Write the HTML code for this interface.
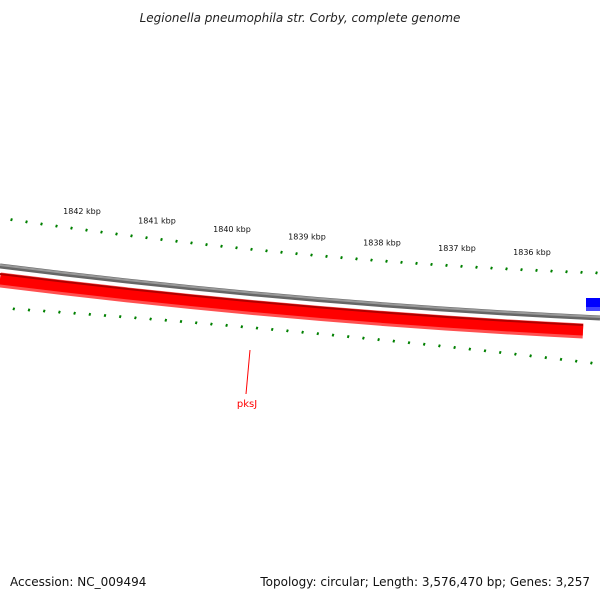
<!DOCTYPE html>
<html><head><meta charset="utf-8"><style>
html,body{margin:0;padding:0;background:#fff;}
svg{display:block;font-family:"DejaVu Sans","Liberation Sans",sans-serif;}
</style></head><body>
<svg id="map" width="600" height="600" viewBox="0 0 600 600">
<rect width="600" height="600" fill="#fff"/>
<text x="300" y="22" text-anchor="middle" font-size="12" font-style="italic" fill="#222">Legionella pneumophila str. Corby, complete genome</text>
<path d="M0,266 Q300,304 600,318" fill="none" stroke="#666" stroke-width="5"/>
<path d="M0,265 Q300,303 600,317" fill="none" stroke="#999" stroke-width="2"/>
<path d="M0,280 Q291.5,316.5 583,331" fill="none" stroke="#ff5050" stroke-width="15"/>
<path d="M0,279 Q291.5,315.5 583,330" fill="none" stroke="#ff0000" stroke-width="11"/>
<path d="M0,274 Q291.5,310.5 583,325" fill="none" stroke="#b00000" stroke-width="2"/>
<rect x="586" y="298" width="14" height="13" fill="#0000ff"/>
<rect x="586" y="307" width="14" height="4" fill="#4444ff"/>
<line x1="250" y1="350" x2="246" y2="394" stroke="#ff0000" stroke-width="1"/>
<text x="247" y="407" text-anchor="middle" font-size="10" fill="#ff0000">pksJ</text>
<g id="ticks"></g>
<text x="10" y="586" font-size="12" fill="#111">Accession: NC_009494</text>
<text x="590" y="586" text-anchor="end" font-size="12" fill="#111">Topology: circular; Length: 3,576,470 bp; Genes: 3,257</text>
</svg>
<script>
const majorKbp = [1843, 1842, 1841, 1840, 1839, 1838, 1837, 1836];
const labelKbp = [1842, 1841, 1840, 1839, 1838, 1837, 1836];
const minorStep = 0.2;
const startKbp = 1843.1;
const endKbp = 1835.1;
// axis: kbp -> x (decreasing to the right)
function xOuter(k){ return 4 + (1843 - k) * 75; }
function xInner(k){ return 67 + (1842 - k) * 76; }
function quadY(x, y0, c, y1){ const t = x/600; return (1-t)*(1-t)*y0 + 2*t*(1-t)*c + t*t*y1; }
function yOuter(x){ return quadY(x, 218, 262.5, 273); }
function yInner(x){ return quadY(x, 308, 328, 364); }
const g = document.getElementById('ticks');
const NS = 'http://www.w3.org/2000/svg';
function tick(x, y, major){
  const l = document.createElementNS(NS, 'line');
  const h = major ? 4 : 1.3;
  l.setAttribute('x1', x + 0.4); l.setAttribute('y1', y - h);
  l.setAttribute('x2', x - 0.4); l.setAttribute('y2', y + h);
  l.setAttribute('stroke', '#008000'); l.setAttribute('stroke-width', 2);
  
  
  g.appendChild(l);
}
for (let k = startKbp; k >= endKbp - 1e-6; k -= minorStep) {
  const kk = Math.round(k*10)/10;
  const major = majorKbp.some(m => Math.abs(m - kk) < 1e-6);
  const xo = xOuter(kk);
  if (xo >= 0 && xo <= 600) tick(xo, yOuter(xo), major);
  const xi = xInner(kk);
  if (xi >= 0 && xi <= 600) tick(xi, yInner(xi), major);
}
labelKbp.forEach(k => {
  const x = xOuter(k);
  const t = document.createElementNS(NS, 'text');
  t.setAttribute('x', x + 3); t.setAttribute('y', yOuter(x) - 15);
  t.setAttribute('text-anchor', 'middle'); t.setAttribute('font-size', '8');
  t.setAttribute('fill', '#111');
  t.textContent = k + ' kbp';
  
  
  g.appendChild(t);
});
</script>
</body></html>
